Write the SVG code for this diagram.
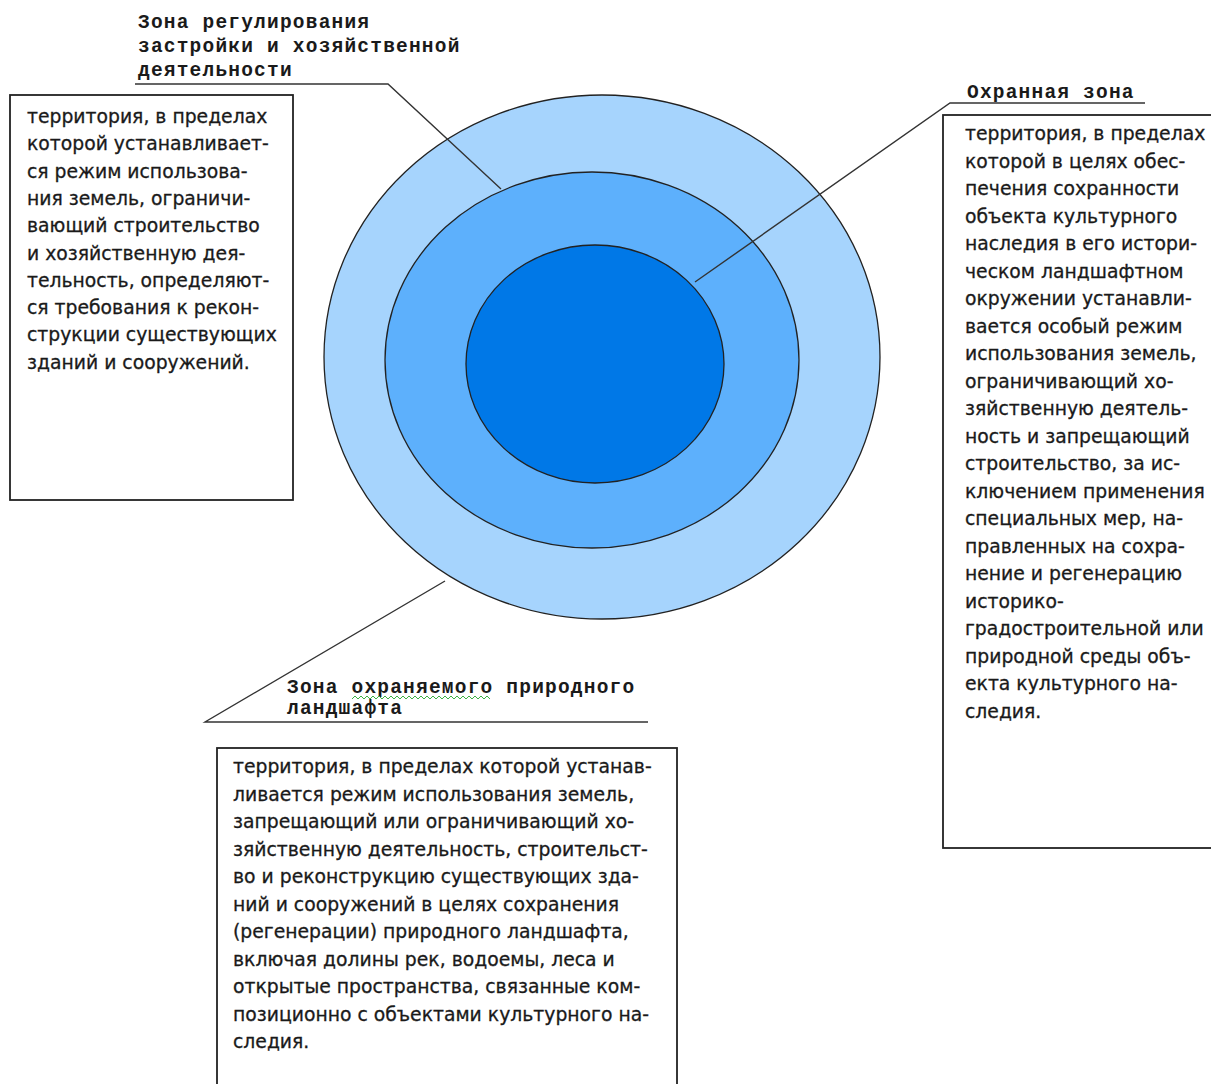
<svg xmlns="http://www.w3.org/2000/svg" width="1211" height="1084" viewBox="0 0 1211 1084">
<style>
.bg{fill:#ffffff}
.box{fill:#ffffff;stroke:#222;stroke-width:1.8}
.ring{stroke:#222;stroke-width:1.3}
.lbl{font-family:"Liberation Mono","DejaVu Sans Mono",monospace;font-weight:bold;font-size:19.5px;letter-spacing:1.2px;fill:#1a1a1a}
.body{font-family:"DejaVu Sans","Noto Sans",sans-serif;font-size:18.8px;fill:#1a1a1a;stroke:#1a1a1a;stroke-width:0.3}
.conn{fill:none;stroke:#333;stroke-width:1.4}
</style>
<rect class="bg" x="0" y="0" width="1211" height="1084"/>
<g id="zones">
  <ellipse id="zone-outer" class="ring" cx="602" cy="357" rx="278" ry="262" fill="#a6d4fd"/>
  <ellipse id="zone-middle" class="ring" cx="592" cy="360" rx="207" ry="188" fill="#5db0fc"/>
  <ellipse id="zone-inner" class="ring" cx="595" cy="364" rx="129" ry="119" fill="#0078e7"/>
</g>
<g id="connectors">
  <polyline class="conn" points="135,84 388,84 501,189"/>
  <polyline class="conn" points="695,282 950,103 1145,103"/>
  <polyline class="conn" points="445,581 205,722 648,722"/>
</g>
<g id="label-regulation">
  <text class="lbl"><tspan x="138" y="28">Зона регулирования</tspan><tspan x="138" y="52">застройки и хозяйственной</tspan><tspan x="138" y="76">деятельности</tspan></text>
</g>
<g id="label-protection">
  <text class="lbl" x="967" y="98">Охранная зона</text>
</g>
<g id="label-landscape">
  <text class="lbl"><tspan x="287" y="693">Зона охраняемого природного</tspan><tspan x="287" y="714">ландшафта</tspan></text>
  <polyline points="352,699 355,696 358,699 361,696 364,699 367,696 370,699 373,696 376,699 379,696 382,699 385,696 388,699 391,696 394,699 397,696 400,699 403,696 406,699 409,696 412,699 415,696 418,699 421,696 424,699 427,696 430,699 433,696 436,699 439,696 442,699 445,696 448,699 451,696 454,699 457,696 460,699 463,696 466,699 469,696 472,699 475,696 478,699 481,696 484,699 487,696 490,699" fill="none" stroke="#3cb043" stroke-width="1"/>
</g>
<g id="box-regulation">
  <rect class="box" x="10" y="95" width="283" height="405"/>
  <text class="body"><tspan x="27" y="123">территория, в пределах</tspan><tspan x="27" dy="27.3">которой устанавливает-</tspan><tspan x="27" dy="27.3">ся режим использова-</tspan><tspan x="27" dy="27.3">ния земель, ограничи-</tspan><tspan x="27" dy="27.3">вающий строительство</tspan><tspan x="27" dy="27.3">и хозяйственную дея-</tspan><tspan x="27" dy="27.3">тельность, определяют-</tspan><tspan x="27" dy="27.3">ся требования к рекон-</tspan><tspan x="27" dy="27.3">струкции существующих</tspan><tspan x="27" dy="27.3">зданий и сооружений.</tspan></text>
</g>
<g id="box-protection">
  <rect class="box" x="943" y="115" width="275" height="733"/>
  <text class="body"><tspan x="965" y="140">территория, в пределах</tspan><tspan x="965" dy="27.5">которой в целях обес-</tspan><tspan x="965" dy="27.5">печения сохранности</tspan><tspan x="965" dy="27.5">объекта культурного</tspan><tspan x="965" dy="27.5">наследия в его истори-</tspan><tspan x="965" dy="27.5">ческом ландшафтном</tspan><tspan x="965" dy="27.5">окружении устанавли-</tspan><tspan x="965" dy="27.5">вается особый режим</tspan><tspan x="965" dy="27.5">использования земель,</tspan><tspan x="965" dy="27.5">ограничивающий хо-</tspan><tspan x="965" dy="27.5">зяйственную деятель-</tspan><tspan x="965" dy="27.5">ность и запрещающий</tspan><tspan x="965" dy="27.5">строительство, за ис-</tspan><tspan x="965" dy="27.5">ключением применения</tspan><tspan x="965" dy="27.5">специальных мер, на-</tspan><tspan x="965" dy="27.5">правленных на сохра-</tspan><tspan x="965" dy="27.5">нение и регенерацию</tspan><tspan x="965" dy="27.5">историко-</tspan><tspan x="965" dy="27.5">градостроительной или</tspan><tspan x="965" dy="27.5">природной среды объ-</tspan><tspan x="965" dy="27.5">екта культурного на-</tspan><tspan x="965" dy="27.5">следия.</tspan></text>
</g>
<g id="box-landscape">
  <rect class="box" x="217" y="748" width="460" height="345"/>
  <text class="body"><tspan x="233" y="773">территория, в пределах которой устанав-</tspan><tspan x="233" dy="27.5">ливается режим использования земель,</tspan><tspan x="233" dy="27.5">запрещающий или ограничивающий хо-</tspan><tspan x="233" dy="27.5">зяйственную деятельность, строительст-</tspan><tspan x="233" dy="27.5">во и реконструкцию существующих зда-</tspan><tspan x="233" dy="27.5">ний и сооружений в целях сохранения</tspan><tspan x="233" dy="27.5">(регенерации) природного ландшафта,</tspan><tspan x="233" dy="27.5">включая долины рек, водоемы, леса и</tspan><tspan x="233" dy="27.5">открытые пространства, связанные ком-</tspan><tspan x="233" dy="27.5">позиционно с объектами культурного  на-</tspan><tspan x="233" dy="27.5">следия.</tspan></text>
</g>
</svg>
